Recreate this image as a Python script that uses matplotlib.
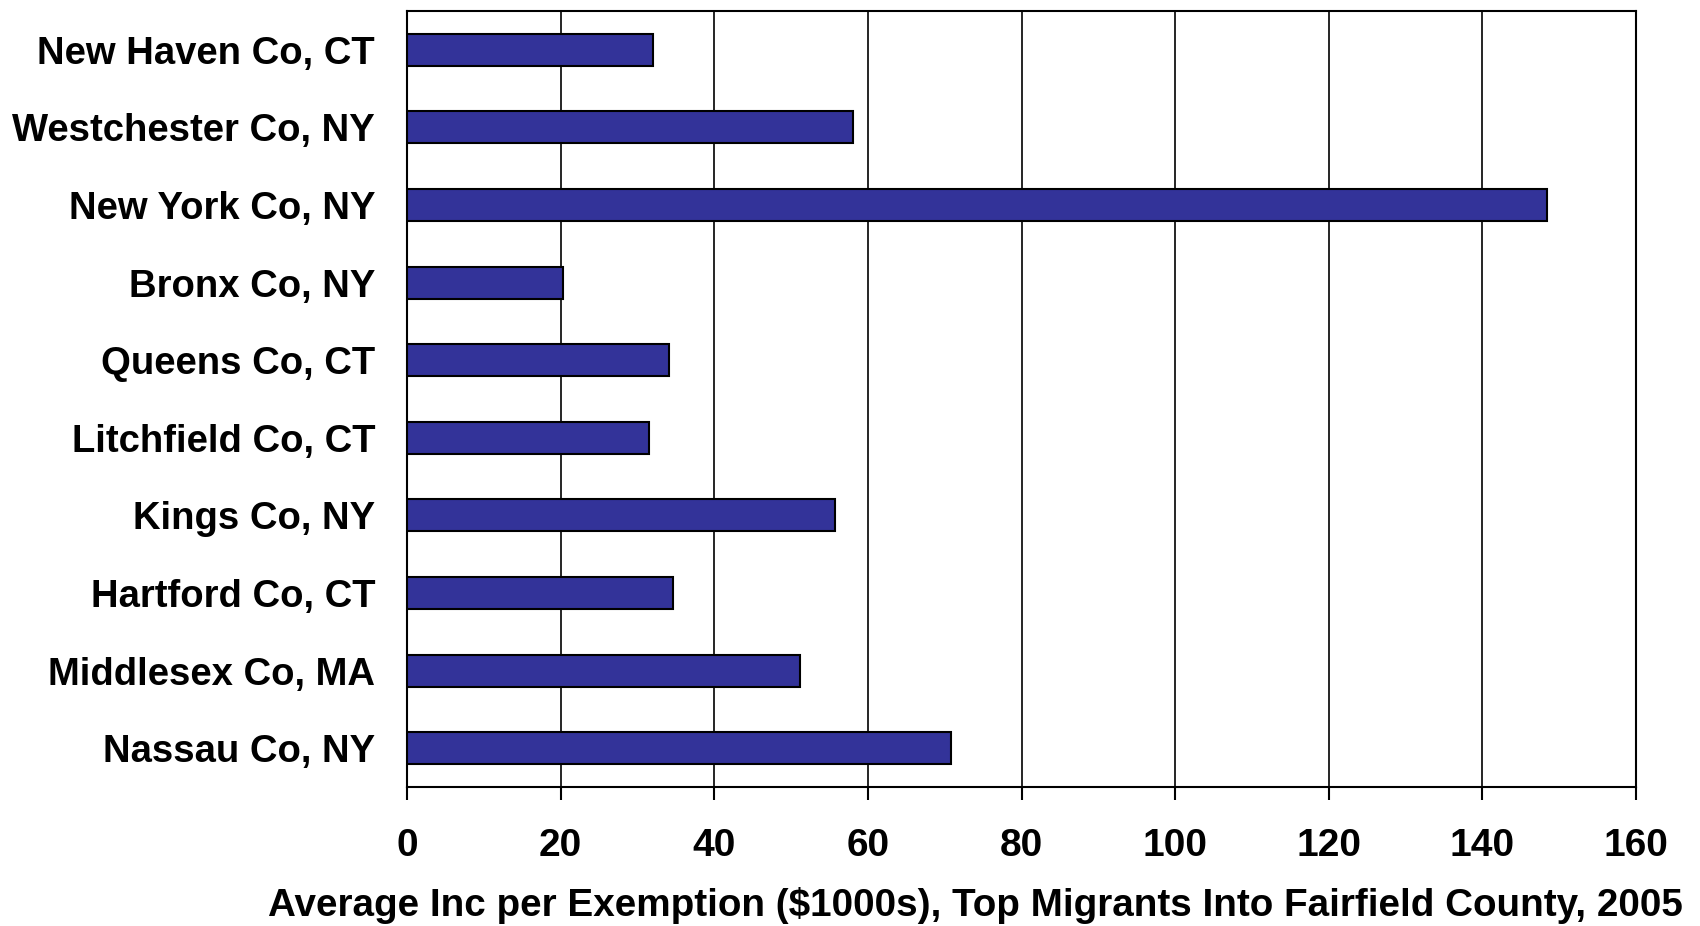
import matplotlib.pyplot as plt

# counties, top to bottom as drawn
counties = ["New Haven Co, CT", "Westchester Co, NY", "New York Co, NY", "Bronx Co, NY",
            "Queens Co, CT", "Litchfield Co, CT", "Kings Co, NY", "Hartford Co, CT",
            "Middlesex Co, MA", "Nassau Co, NY"]
avg_income = [32.0, 58.1, 148.4, 20.3, 34.1, 31.5, 55.7, 34.6, 51.1, 70.8]
xticks = [0, 20, 40, 60, 80, 100, 120, 140, 160]

plt.rcParams['font.family'] = ['Liberation Sans', 'DejaVu Sans']
plt.rcParams['font.weight'] = 'bold'

fig = plt.figure(figsize=(17, 9.26), dpi=100)
ax = fig.add_axes([407 / 1700, 1 - 787 / 926, (1636 - 407) / 1700, (787 - 11) / 926])

ypos = list(range(len(counties)))
ax.barh(ypos, avg_income, height=0.41, color="#333399", edgecolor="black", linewidth=1.5, zorder=3)

ax.set_ylim(len(counties) - 0.5, -0.5)
ax.set_xlim(0, 160)
ax.set_xticks(xticks)
ax.set_xticklabels([str(t) for t in xticks], fontsize=28, fontweight='bold')
ax.set_yticks(ypos)
ax.set_yticklabels(counties, fontsize=27.5, fontweight='bold')

ax.xaxis.grid(True, color="black", linewidth=1.2, zorder=0)
ax.tick_params(axis='x', direction='out', length=9.5, width=1.5, pad=20)
ax.tick_params(axis='y', length=0, pad=23)
for sp in ax.spines.values():
    sp.set_linewidth(1.5)

fig.text(975 / 1700, 1 - 905 / 926,
         "Average Inc per Exemption ($1000s), Top Migrants Into Fairfield County, 2005",
         ha='center', va='center', fontsize=27.8, fontweight='bold')

fig.savefig("out.png", dpi=100)
